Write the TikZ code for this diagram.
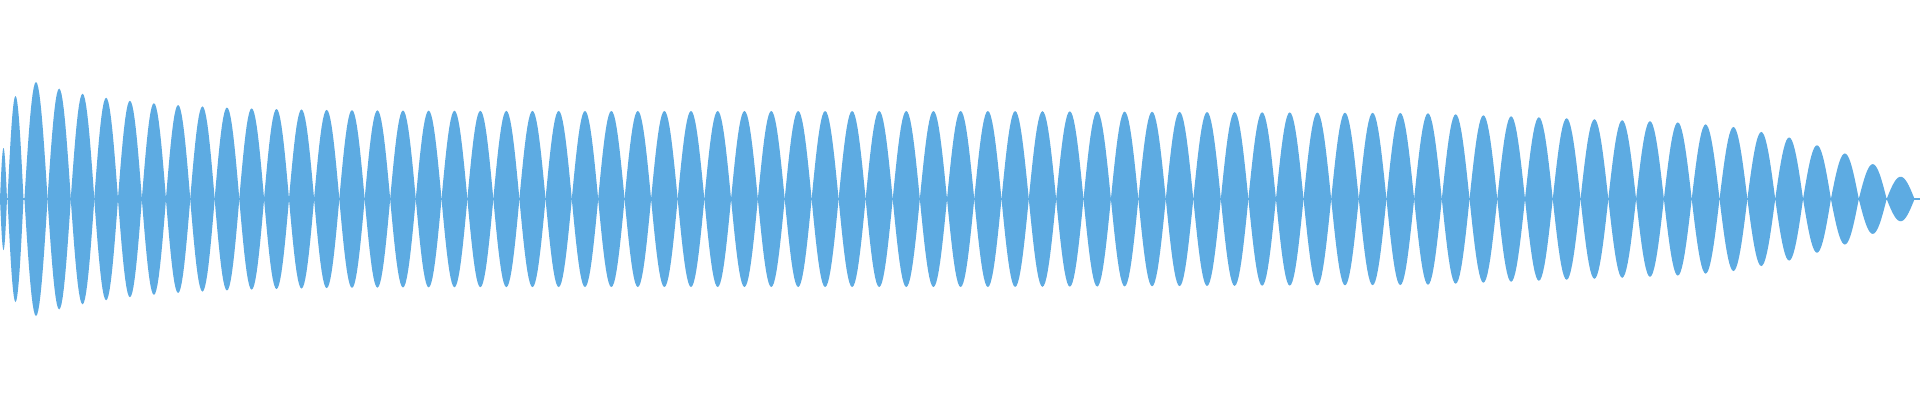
\documentclass[tikz,border=0pt]{standalone}
\definecolor{wavecol}{HTML}{5DABE2}
\tikzset{wave/.style={fill=wavecol,draw=none}}
\begin{document}
\begin{tikzpicture}[x=1pt,y=-1pt]
\def\wavelobe#1#2#3{%
  \fill[wave] plot[domain=0:180,samples=21] ({#1-#2/2+#2*\x/180},{199-#3*sin(\x)}) -- plot[domain=180:0,samples=21] ({#1-#2/2+#2*\x/180},{199+#3*sin(\x)}) -- cycle;}
\useasboundingbox (0,0) rectangle (1920,400);
\clip (0,0) rectangle (1920,400);
\draw[wavecol,line width=1.2pt] (0,199) -- (1920,199);
\wavelobe{3.5}{7}{51}
\wavelobe{15.5}{16}{103}
\xdef\cc{36}
\foreach \i in {1,...,90}{
  \pgfmathsetmacro\s{28-5.2*exp(-\cc/500)}
  \pgfmathsetmacro\A{29*exp(-(\cc-36)/90)+max(0,min(88,88-0.0048*(\cc-1000),86-0.0357*(\cc-1420),77-0.0714*(\cc-1672),73-0.179*(\cc-1728),63-0.281*(\cc-1784),47-0.382*(\cc-1841),26-0.818*(\cc-1896)))}
  \ifdim \cc pt<1935pt \wavelobe{\cc}{\s}{\A}\fi
  \pgfmathsetmacro\n{\cc+\s}\xdef\cc{\n}
}
\end{tikzpicture}
\end{document}
